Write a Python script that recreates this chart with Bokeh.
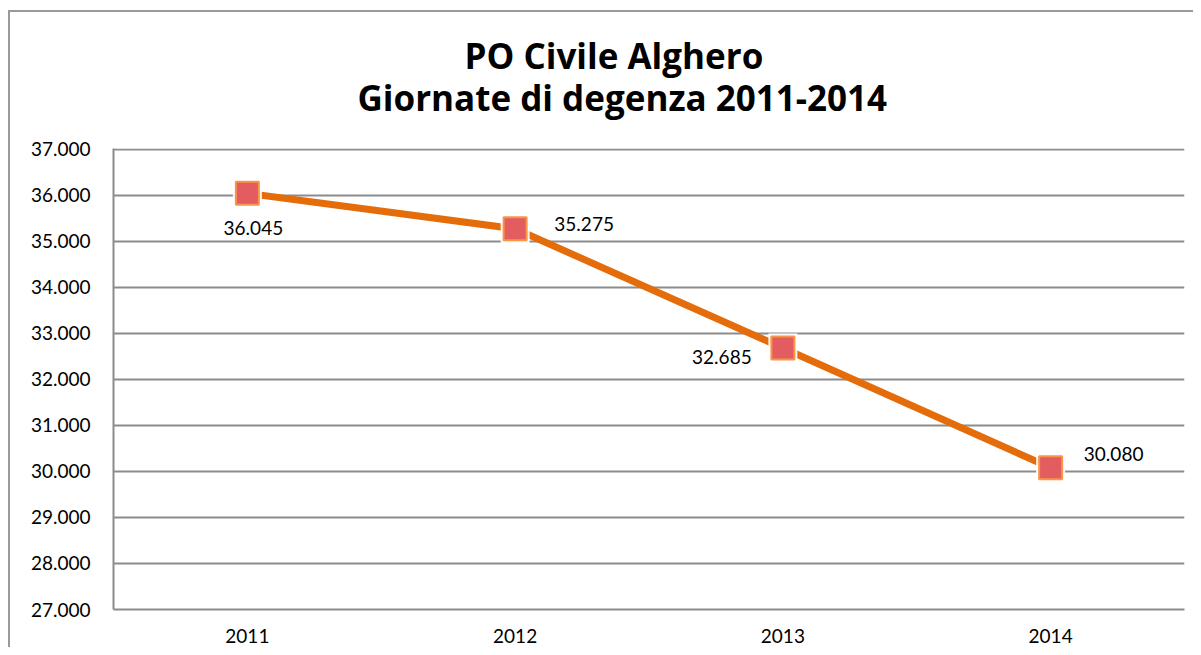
from bokeh.plotting import figure
from bokeh.models import ColumnDataSource, FixedTicker, Title
from bokeh.core.properties import value
from bokeh.embed import file_html
from bokeh.resources import INLINE

# ---- data ----
years = ["2011", "2012", "2013", "2014"]
giornate = [36045, 35275, 32685, 30080]
labels = ["36.045", "35.275", "32.685", "30.080"]
y_ticks = [27000, 28000, 29000, 30000, 31000, 32000, 33000, 34000, 35000, 36000, 37000]
y_tick_labels = ["27.000", "28.000", "29.000", "30.000", "31.000", "32.000",
                 "33.000", "34.000", "35.000", "36.000", "37.000"]
title_lines = ["PO Civile Alghero", "Giornate di degenza 2011-2014"]

# ---- style (label offsets in px) ----
label_dx = [6, 69, -61, 63]
label_dy = [35, -5, 9, -14]

FONT = "Lato"
TFONT = "Open Sans"

p = figure(x_range=years, y_range=(27000, 37020), width=1193, height=647,
           output_backend="svg", toolbar_location=None,
           min_border_left=113, min_border_right=9, min_border_top=148, min_border_bottom=38)
# outer chart frame (top and left edges) drawn as the host background,
# seen through a transparent canvas border area
p.styles = {"background": ("linear-gradient(#9a9a9a, #9a9a9a) 9px 10px / 100% 2px no-repeat, "
                           "linear-gradient(#9a9a9a, #9a9a9a) 8px 10px / 2px 100% no-repeat, "
                           "#ffffff")}
p.outline_line_color = None
p.background_fill_color = "white"
p.border_fill_color = None

p.xgrid.grid_line_color = None
p.ygrid.grid_line_color = "#8c8c8c"
p.ygrid.grid_line_width = 2
p.ygrid.ticker = FixedTicker(ticks=y_ticks)

p.yaxis.ticker = FixedTicker(ticks=y_ticks)
p.yaxis.major_label_overrides = {t: l for t, l in zip(y_ticks, y_tick_labels)}
for ax in (p.xaxis, p.yaxis):
    ax.major_tick_line_color = None
    ax.minor_tick_line_color = None
    ax.major_tick_out = 0
    ax.major_tick_in = 0
    ax.axis_line_color = "#8c8c8c"
    ax.axis_line_width = 2
    ax.major_label_text_font = FONT
    ax.major_label_text_font_size = "19px"
    ax.major_label_text_color = "black"
p.yaxis.major_label_standoff = 23
p.xaxis.major_label_standoff = 19

src = ColumnDataSource(dict(x=years, y=giornate, lab=labels, dx=label_dx, dy=label_dy))

p.line("x", "y", source=src, line_color="#E46C0A", line_width=7)
p.scatter("x", "y", source=src, marker="square", size=29, fill_color="white",
          line_color=None, fill_alpha=0.9)
p.scatter("x", "y", source=src, marker="square", size=23, fill_color="#e35d60",
          line_color="#f79646", line_width=2)
p.text("x", "y", text="lab", source=src, x_offset="dx", y_offset="dy",
       text_align="center", text_baseline="middle", text_font=value(FONT),
       text_font_size="19px", text_color="black")

# title (two bold lines) - stacked Title panels, nearest the frame first
p.add_layout(Title(text=title_lines[1], align="left", offset=244, text_font=TFONT,
                   text_font_size="35px", text_font_style="bold", text_color="black",
                   standoff=56), "above")
p.add_layout(Title(text=title_lines[0], align="left", offset=351, text_font=TFONT,
                   text_font_size="35px", text_font_style="bold", text_color="black",
                   standoff=-70), "above")

open("out.html", "w").write(file_html(p, INLINE))
